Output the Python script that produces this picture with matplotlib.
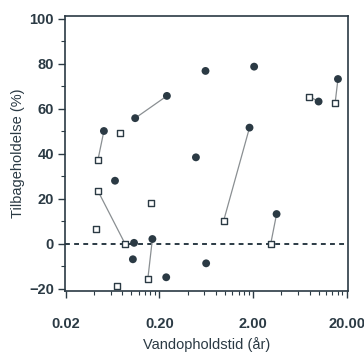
import matplotlib.pyplot as plt
import numpy as np

# residence time (years), retention (%), marker type, pairing group (0 = no link)
t_res = [0.051, 0.044, 0.11, 0.24, 0.044, 0.086, 0.15, 0.168, 1.83, 0.97,
         3.56, 3.08, 16.1, 15.0, 7.97, 10.0,
         0.076, 0.067, 0.0416, 0.107, 0.104, 0.162, 0.236, 0.0698, 0.49, 0.62,
         2.05, 0.63]
retention = [50.2, 37.3, 55.9, 65.8, 23.6, 0.0, -15.7, 2.2, 51.7, 10.4,
             13.3, 0.0, 73.3, 62.5, 65.5, 63.3,
             49.2, 28.1, 6.5, 0.5, -6.8, 18.4, -14.8, -18.5, 38.5, 76.9,
             78.8, -8.6]
kind = ["f", "o", "f", "f", "o", "o", "o", "f", "f", "o",
        "f", "o", "f", "o", "o", "f",
        "o", "f", "o", "f", "f", "o", "f", "o", "f", "f",
        "f", "f"]
group = [1, 1, 2, 2, 3, 3, 4, 4, 5, 5,
         6, 6, 7, 7, 8, 8,
         0, 0, 0, 0, 0, 0, 0, 0, 0, 0,
         0, 0]

xticks = [0.02, 0.2, 2, 20]
xticklabels = ["0.02", "0.20", "2.00", "20.00"]
yticks = [-20, 0, 20, 40, 60, 80, 100]

ink = "#2b3a44"
plt.rcParams['font.family'] = ['Liberation Sans', 'DejaVu Sans']

fig = plt.figure(figsize=(3.64, 3.52), dpi=100)
ax = fig.add_axes([0.1786, 0.1733, 0.956 - 0.1786, 0.9545 - 0.1733])
ax.set_xscale("log")
ax.set_xlim(0.0196, 20.6)
ax.set_ylim(-20.9, 101.3)

ax.axhline(0, color=ink, lw=1.4, ls=(0, (2.5, 2.2)), zorder=1)

x = np.array(t_res)
y = np.array(retention)
g = np.array(group)
k = np.array(kind)
for gid in sorted(set(group) - {0}):
    m = g == gid
    ax.plot(x[m], y[m], color="#8a8f92", lw=0.9, zorder=2)

f = k == "f"
ax.scatter(x[f], y[f], s=32, color=ink, edgecolors="none", zorder=3)
o = k == "o"
ax.scatter(x[o], y[o], s=24, marker="s", facecolors="white",
           edgecolors=ink, linewidths=1.0, zorder=3)

ax.set_xticks(xticks)
ax.set_xticklabels(xticklabels)
minor = [b * m for b in (0.02, 0.2, 2) for m in range(2, 10)]
ax.set_xticks(minor, minor=True)
ax.set_xticklabels([], minor=True)
ax.set_yticks(yticks)
ax.set_yticks(np.arange(-10, 100, 20), minor=True)

ax.tick_params(which="major", direction="out", length=5, width=1.0,
               colors=ink, labelsize=10.5)
ax.tick_params(which="minor", direction="out", length=3, width=0.8, colors=ink)
ax.tick_params(axis="x", pad=14)
ax.tick_params(axis="y", pad=3)
for lab in ax.get_xticklabels() + ax.get_yticklabels():
    lab.set_fontweight("bold")

for s in ax.spines.values():
    s.set_color(ink)
    s.set_linewidth(1.2)

ax.set_xlabel("Vandopholdstid (år)", fontsize=10.5, color=ink, labelpad=4)
ax.set_ylabel("Tilbageholdelse (%)", fontsize=10.5, color=ink, labelpad=3)

fig.savefig("out.png", dpi=100)
